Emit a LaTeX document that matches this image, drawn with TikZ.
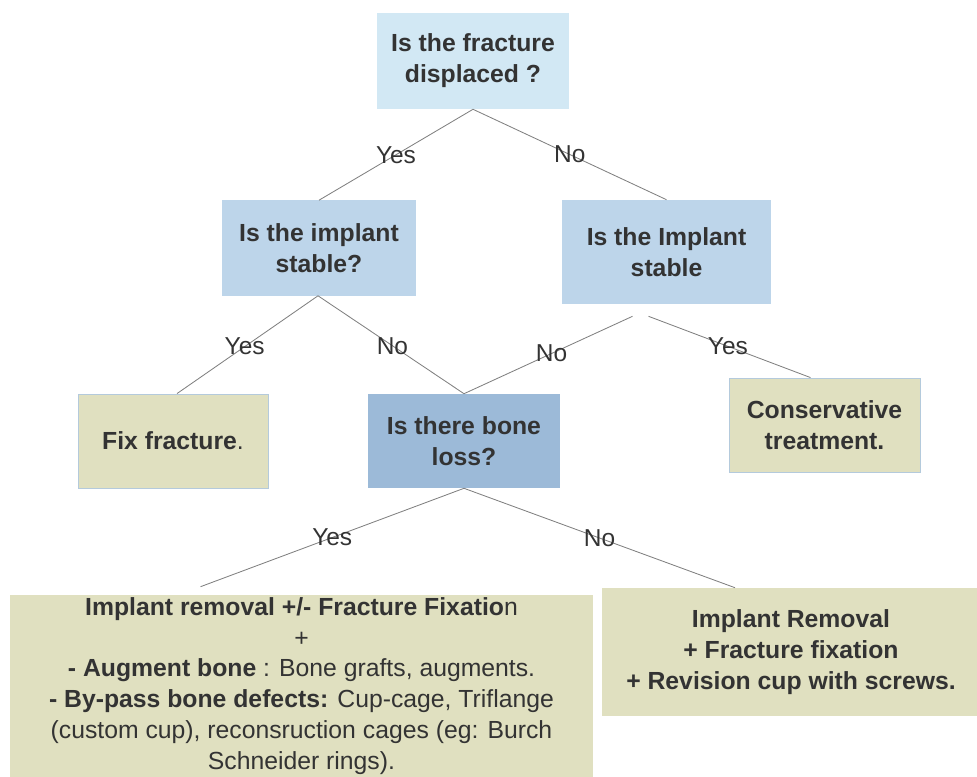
\documentclass[tikz,border=0pt]{standalone}
\usepackage{fontspec}
\setmainfont{Liberation Sans}
\usepackage{tikz}
\usetikzlibrary{calc}
\definecolor{qpale}{HTML}{D2E8F4}
\definecolor{qblue}{HTML}{BDD5EA}
\definecolor{qdeep}{HTML}{9CBAD8}
\definecolor{kolive}{HTML}{E0E0C0}
\definecolor{kedge}{HTML}{B4CADC}
\definecolor{ktext}{HTML}{333333}
\definecolor{kline}{HTML}{808080}

\begin{document}
\begin{tikzpicture}[x=0.025cm, y=-0.025cm,
  box/.style={font=\fontsize{17.6}{22}\selectfont\bfseries, text=ktext, align=center, inner sep=0pt},
  qbox/.style={box, fill=qblue},
  endbox/.style={box, fill=kolive},
  link/.style={draw=kline, line width=0.6pt},
  ans/.style={font=\fontsize{17.4}{20}\selectfont, text=ktext, inner sep=0pt}]
\useasboundingbox (0,0) rectangle (977,776);
% question boxes
\node[qbox, fill=qpale, minimum width=4.8cm, minimum height=2.4cm] (q1) at (473,61)
  {Is the fracture\\displaced ?};
\node[qbox, minimum width=4.85cm, minimum height=2.375cm] (q2) at (319,248)
  {Is the implant\\stable?};
\node[qbox, minimum width=5.225cm, minimum height=2.6cm] (q3) at (666.5,252)
  {Is the Implant\\stable};
\node[qbox, fill=qdeep, minimum width=4.8cm, minimum height=2.35cm] (bone) at (464,441)
  {Is there bone\\loss?};
% outcome boxes
\node[endbox, draw=kedge, line width=0.6pt, minimum width=4.75cm, minimum height=2.35cm] (fix) at (173,441)
  {Fix fracture{\mdseries .}};
\node[endbox, draw=kedge, line width=0.6pt, minimum width=4.775cm, minimum height=2.35cm] (cons) at (824.5,425)
  {Conservative\\treatment.};
\node[endbox, font=\fontsize{17.6}{22}\selectfont, minimum width=14.575cm, minimum height=4.55cm] (revl) at (301.5,686)
  {\textbf{Implant removal +/- Fracture Fixatio}n\\
   +\\
   \textbf{- Augment bone} : Bone grafts, augments.\\
   \textbf{- By-pass bone defects:} Cup-cage, Triflange\\
   (custom cup), reconsruction cages (eg: Burch\\
   Schneider rings).};
\node[endbox, minimum width=9.45cm, minimum height=3.2cm] (revr) at (791,652)
  {Implant Removal\\+ Fracture fixation\\+ Revision cup with screws.};
% free ends
\coordinate (q3l) at ($(q3.south)+(-34,12)$);
\coordinate (q3r) at ($(q3.south)+(-18,12)$);
\coordinate (bl) at ($(revl.north)+(-101,-8)$);
\coordinate (br) at ($(revr.north)+(-56,0)$);
\coordinate (cn) at ($(cons.north)+(-14,0)$);
% connectors
\draw[link] (q1.south) -- node[ans, pos=0.5] {Yes} (q2.north);
\draw[link] (q1.south) -- node[ans, pos=0.5] {No} (q3.north);
\draw[link] ($(q2.south)+(-1,0)$) -- node[ans, pos=0.52] {Yes} ($(fix.north)+(4,0)$);
\draw[link] ($(q2.south)+(-1,0)$) -- node[ans, pos=0.51] {No} (bone.north);
\draw[link] (q3l) -- node[ans, pos=0.48] {No} (bone.north);
\draw[link] (q3r) -- node[ans, pos=0.49] {Yes} (cn);
\draw[link] (bone.south) -- node[ans, pos=0.5] {Yes} (bl);
\draw[link] (bone.south) -- node[ans, pos=0.5] {No} (br);
\end{tikzpicture}
\end{document}
